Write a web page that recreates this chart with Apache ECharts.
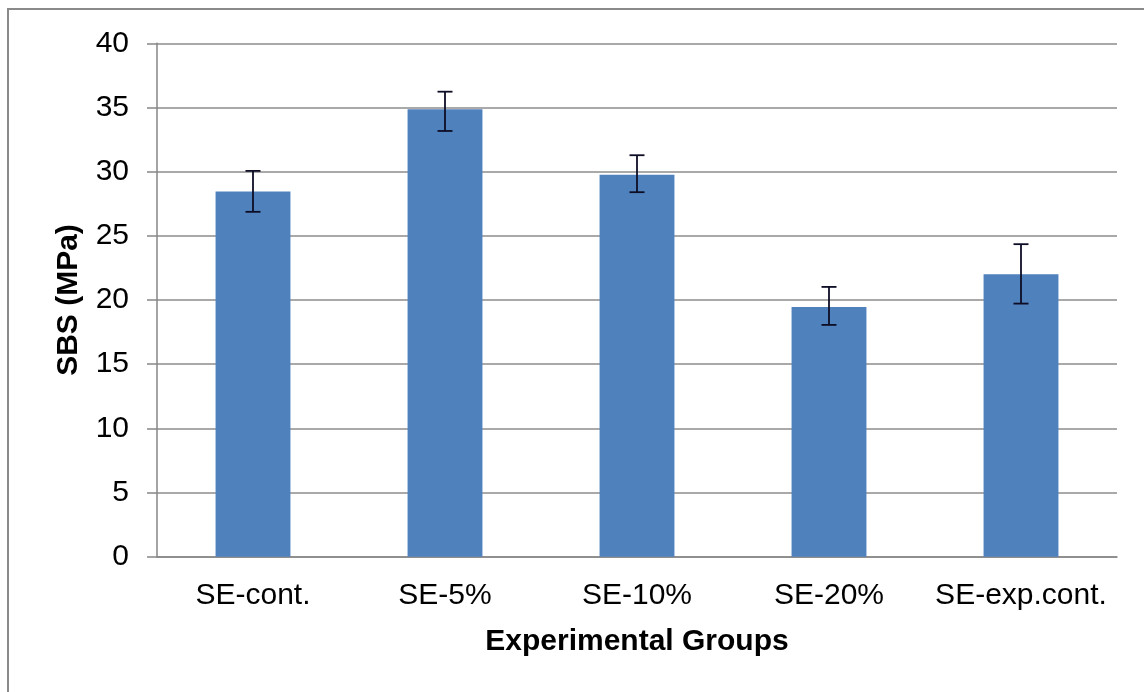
<!DOCTYPE html>
<html>
<head>
<meta charset="utf-8">
<script src="https://cdn.jsdelivr.net/npm/echarts@6/dist/echarts.min.js"></script>
<style>
html,body{margin:0;padding:0;background:#fff;}
#chart{width:1144px;height:692px;}
</style>
</head>
<body>
<div id="chart"></div>
<script>
const categories = ['SE-cont.', 'SE-5%', 'SE-10%', 'SE-20%', 'SE-exp.cont.'];
const means = [28.45, 34.86, 29.75, 19.46, 22.0];
const errHigh = [30.06, 36.23, 31.28, 21.02, 24.35];
const errLow = [26.87, 33.17, 28.4, 18.06, 19.72];
const yTicks = { min: 0, max: 40, interval: 5 };

const FONT = '"Liberation Sans", Arial, sans-serif';
const chart = echarts.init(document.getElementById('chart'));

const errData = categories.map((c, i) => [i, errLow[i], errHigh[i]]);

chart.setOption({
  animation: false,
  backgroundColor: '#fff',
  graphic: [{
    type: 'rect',
    shape: { x: 8, y: 9, width: 1400, height: 900 },
    style: { fill: 'none', stroke: '#8a8a8a', lineWidth: 2 },
    silent: true
  }],
  grid: { left: 157, right: 27, top: 43.3, bottom: 135.3, containLabel: false },
  xAxis: {
    type: 'category',
    data: categories,
    name: 'Experimental Groups',
    nameLocation: 'middle',
    nameGap: 70,
    nameTextStyle: { fontFamily: FONT, fontSize: 30, fontWeight: 'bold', color: '#000' },
    axisLine: { lineStyle: { color: '#868686', width: 1.5 } },
    axisTick: { show: false },
    axisLabel: { fontFamily: FONT, fontSize: 30, color: '#000', margin: 24, interval: 0 }
  },
  yAxis: {
    type: 'value',
    min: yTicks.min, max: yTicks.max, interval: yTicks.interval,
    name: 'SBS (MPa)',
    nameLocation: 'middle',
    nameGap: 73,
    nameTextStyle: { fontFamily: FONT, fontSize: 30, fontWeight: 'bold', color: '#000' },
    axisLine: { show: true, lineStyle: { color: '#868686', width: 1.5 } },
    axisTick: { show: true, length: 10, lineStyle: { color: '#868686', width: 1.5 } },
    axisLabel: { fontFamily: FONT, fontSize: 30, color: '#000', margin: 28 },
    splitLine: { lineStyle: { color: '#8c8c8c', width: 1.5 } }
  },
  series: [{
    type: 'bar',
    data: means,
    barWidth: '39%',
    itemStyle: { color: '#4f81bd' },
    z: 2
  }, {
    type: 'custom',
    data: errData,
    z: 5,
    renderItem: function (params, api) {
      const x = api.value(0);
      const lo = api.coord([x, api.value(1)]);
      const hi = api.coord([x, api.value(2)]);
      const hw = 7.5;
      const style = { stroke: '#0d0d26', lineWidth: 1.8 };
      return {
        type: 'group',
        children: [
          { type: 'line', shape: { x1: hi[0], y1: hi[1], x2: lo[0], y2: lo[1] }, style: style },
          { type: 'line', shape: { x1: hi[0] - hw, y1: hi[1], x2: hi[0] + hw, y2: hi[1] }, style: style },
          { type: 'line', shape: { x1: lo[0] - hw, y1: lo[1], x2: lo[0] + hw, y2: lo[1] }, style: style }
        ]
      };
    }
  }]
});
</script>
</body>
</html>
